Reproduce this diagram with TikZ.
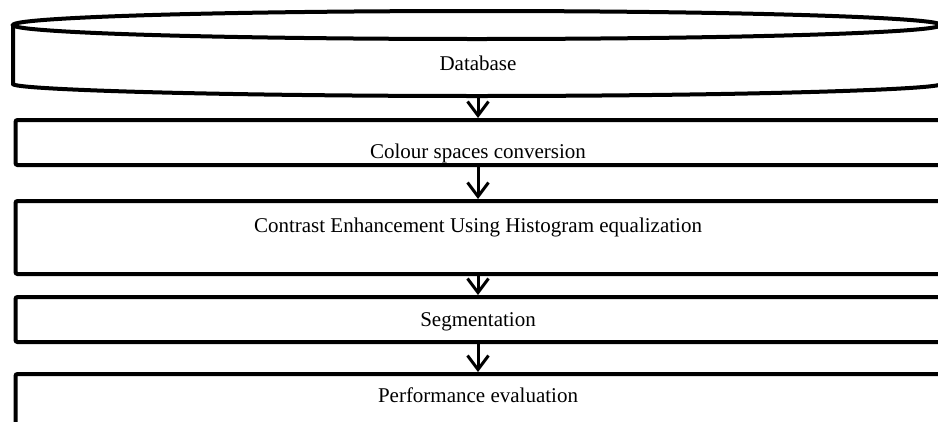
\documentclass[tikz,border=0pt]{standalone}
\usepackage{fontspec}
\setmainfont{Liberation Serif}
\usetikzlibrary{arrows.meta}
\begin{document}
\begin{tikzpicture}[x=1pt,y=-1pt,
  boxst/.style={draw,line width=4pt,rounded corners=2pt,inner sep=0pt,
    minimum width=940pt,anchor=north west},
  txt/.style={font=\fontsize{21}{25}\selectfont,anchor=base,inner sep=0pt},
  arr/.style={line width=3pt,-{Straight Barb[length=14pt,width=21pt,line width=3pt]}}]
\useasboundingbox (0,0) rectangle (938,421);
\clip (0,0) rectangle (938,421);
% cylinder (database)
\draw[line width=4pt] (477,25) ellipse [x radius=464, y radius=14];
\draw[line width=4pt,rounded corners=2pt] (13,25) -- (13,82) arc[start angle=180,end angle=0,x radius=464,y radius=14] -- (941,25);
\coordinate (db) at (478,96);
\coordinate (ax) at (478,0);
\node[txt] (dbt) at (478,70) {Database};
% boxes
\node[boxst,minimum height=45pt] (colour) at (13.5,118) {};
\node[boxst,minimum height=73pt] (contrast) at (13.5,199) {};
\node[boxst,minimum height=45pt] (seg) at (13.5,295) {};
\node[boxst,minimum height=70pt] (perf) at (13.5,372) {};
% texts
\node[txt] (t1) at (478,158) {Colour spaces conversion};
\node[txt] (t2) at (478,232) {Contrast Enhancement Using Histogram equalization};
\node[txt] (t3) at (478,326) {Segmentation};
\node[txt] (t4) at (478,402) {Performance evaluation};
% arrows
\draw[arr] (db) -- (colour.north -| ax);
\draw[arr] (colour.south -| ax) -- (contrast.north -| ax);
\draw[arr] (contrast.south -| ax) -- (seg.north -| ax);
\draw[arr] (seg.south -| ax) -- (perf.north -| ax);
\end{tikzpicture}
\end{document}
